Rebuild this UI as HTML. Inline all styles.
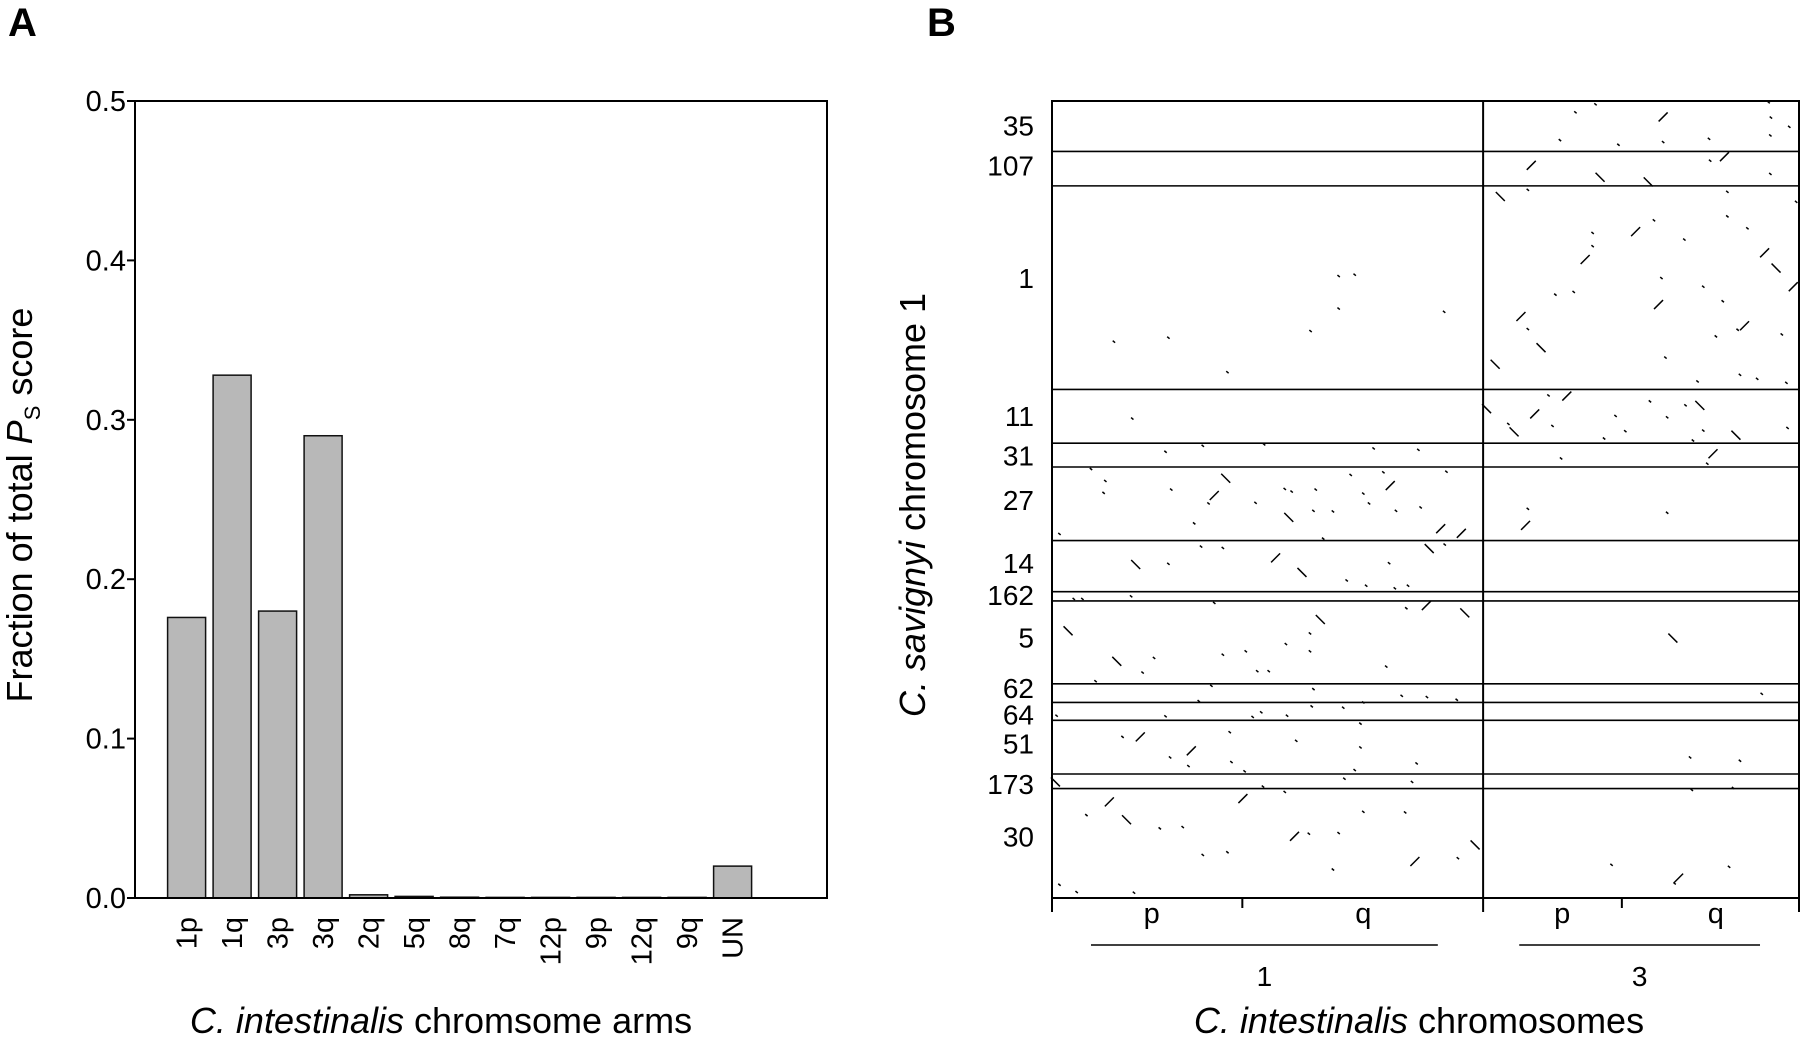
<!DOCTYPE html>
<html><head><meta charset="utf-8"><style>
html,body{margin:0;padding:0;background:#fff}
svg{display:block;font-family:"Liberation Sans",sans-serif}
</style></head><body>
<svg id="fig" width="1800" height="1039" viewBox="0 0 1800 1039" xmlns="http://www.w3.org/2000/svg">
<text x="8" y="36" font-size="40" font-weight="bold">A</text>
<text x="927" y="36" font-size="40" font-weight="bold">B</text>
<g id="chartA"></g>
<g id="chartB"></g>
</svg>
<script>
const categories=["1p","1q","3p","3q","2q","5q","8q","7q","12p","9p","12q","9q","UN"];
const fractionValues=[0.176,0.328,0.180,0.290,0.002,0.001,0.0005,0,0,0,0,0,0.020];
const yTicks=[0,0.1,0.2,0.3,0.4,0.5];
const yTickLabels=["0.0","0.1","0.2","0.3","0.4","0.5"];

const csLabels=["35","107","1","11","31","27","14","162","5","62","64","51","173","30"];
const csBoundaries=[229,281,588,669,705,816,893,907,1032,1060,1087,1168,1190];
const csLabelPos=[190,250,420,628,688,755,850,898,962,1038,1078,1122,1183,1262];
const ciChromBoundaries=[262,1014,1565];
const ciArmTicks=[594,1256];
const armLabels=["p","q","p","q"];
const armLabelPos=[436,805,1152,1420];
const chromLabels=["1","3"];
const chromRange=[[330,935],[1077,1497]];
const dotCi=[370,465,568,713,762,790,762,946,402,460,525,632,823,901,330,355,352,470,565,545,535,617,668,680,675,722,718,752,783,805,815,840,852,862,905,940,976,950,275,735,510,522,560,408,465,652,698,776,810,860,883,920,947,850,300,315,400,290,375,440,420,545,730,670,712,712,600,560,640,620,845,880,915,982,338,540,518,718,715,770,805,872,916,968,270,460,612,627,672,800,385,416,572,688,800,468,505,575,500,598,790,898,772,890,268,630,668,595,322,362,392,450,490,805,878,685,710,762,525,568,752,895,970,1000,275,305,405,
1175,1210,1328,1512,1516,1548,1148,1250,1328,1408,1515,1098,1218,1302,1410,1435,1515,1044,1092,1440,1560,1280,1312,1205,1192,1205,1365,1440,1475,1505,1525,1555,1140,1172,1325,1398,1320,1432,1080,1092,1115,1035,1332,1420,1470,1458,1535,1462,1492,1388,1543,1020,1058,1068,1104,1128,1160,1135,1225,1245,1262,1305,1335,1367,1392,1398,1455,1545,1380,1150,1415,1405,1092,1088,1335,1345,1500,1375,1462,1378,1450,1238,1355,1348,1443];
const dotCs=[516,510,562,500,417,415,466,471,632,682,673,671,677,679,708,726,744,739,722,748,760,759,738,742,781,739,771,772,717,745,760,713,733,771,766,798,805,712,806,813,790,825,827,852,851,842,864,876,884,888,884,828,822,850,904,904,900,952,998,993,1015,910,935,972,956,983,983,988,1013,1013,1006,918,914,925,1028,1035,1058,1040,1066,1068,1060,1050,1052,1056,1080,1081,1082,1075,1080,1092,1112,1112,1105,1118,1128,1143,1133,1150,1156,1164,1162,1152,1175,1180,1180,1187,1195,1205,1230,1210,1237,1250,1248,1225,1226,1262,1258,1257,1290,1286,1312,1300,1295,1275,1335,1346,1347,
170,158,177,155,178,192,212,219,215,210,205,250,268,275,243,237,263,297,287,290,305,350,333,352,392,372,362,327,345,382,405,433,445,441,420,433,460,455,478,497,525,550,540,508,492,498,505,566,572,576,578,617,640,652,625,597,598,643,662,628,651,606,630,612,612,650,657,646,665,692,685,700,768,793,774,963,1047,1143,1148,1192,1189,1305,1325,1333,1308];
const dotDir=[0,0,0,0,0,0,0,0,0,0,0,0,0,0,0,0,0,0,1,-1,0,0,0,0,1,0,0,0,0,0,0,0,-1,0,0,-1,-1,0,0,0,0,0,0,1,0,-1,1,0,0,0,0,1,0,0,0,0,0,1,1,0,0,0,1,0,0,0,0,0,0,0,0,0,-1,1,0,0,0,0,0,0,0,0,0,0,0,0,0,0,0,0,0,-1,0,0,0,0,-1,0,0,0,0,0,0,0,1,0,0,-1,0,-1,1,0,0,0,0,-1,0,0,0,0,0,-1,0,1,0,0,0,
0,0,-1,0,0,0,0,0,0,0,0,-1,1,1,0,-1,0,1,0,0,0,-1,0,0,-1,0,0,0,0,-1,1,-1,0,0,0,0,-1,0,-1,0,1,1,0,0,-1,0,0,0,0,0,0,1,0,1,-1,0,-1,0,0,0,0,0,0,0,1,0,1,0,0,0,-1,0,0,-1,0,1,0,0,0,0,0,0,-1,0,0];

const NS="http://www.w3.org/2000/svg";
function mk(parent,tag,attrs,text){const e=document.createElementNS(NS,tag);for(const k in attrs)e.setAttribute(k,attrs[k]);if(text!==undefined)e.textContent=text;parent.appendChild(e);return e;}

// ---- Panel A ----
const A=document.getElementById('chartA');
const aL=135,aR=827,aT=101,aB=898;
const yA=v=>aB-(v/0.5)*(aB-aT);
const xA=i=>167.6+i*45.5;
const bw=38;
fractionValues.forEach((v,i)=>{
  const h=Math.max(aB-yA(v),0.6);
  const r=mk(A,'rect',{x:xA(i),y:aB-h,width:bw,height:h,fill:'#b8b8b8',stroke:'#111','stroke-width':1.5});
  
  
  const t=mk(A,'text',{transform:`translate(${xA(i)+bw/2+10},${917}) rotate(-90)`,'font-size':29,'text-anchor':'end'},categories[i]);
  
  
});
const fr=mk(A,'rect',{x:aL,y:aT,width:aR-aL,height:aB-aT,fill:'none',stroke:'#000','stroke-width':2});


yTicks.forEach((v,i)=>{
  mk(A,'line',{x1:aL-8,x2:aL,y1:yA(v),y2:yA(v),stroke:'#000','stroke-width':2});
  const t=mk(A,'text',{x:aL-9,y:yA(v)+10,'font-size':29,'text-anchor':'end'},yTickLabels[i]);
  
  
});
const yt=mk(A,'text',{transform:'translate(32,505) rotate(-90)','font-size':36,'text-anchor':'middle'});


yt.innerHTML='Fraction of total <tspan font-style="italic">P</tspan><tspan font-size="22" dy="8">S</tspan><tspan dy="-8"> score</tspan>';
const xt=mk(A,'text',{x:441,y:1033,'font-size':36,'text-anchor':'middle'});


xt.innerHTML='<tspan font-style="italic">C. intestinalis</tspan> chromsome arms';

// ---- Panel B ----
const B=document.getElementById('chartB');
const bL=1052,bR=1799,bT=101,bB=898;
const xB=p=>bL+(p-262)*(bR-bL)/(1565-262);
const yB=p=>bT+(p-153)*(bB-bT)/(1355-153);
const fb=mk(B,'rect',{x:bL,y:bT,width:bR-bL,height:bB-bT,fill:'none',stroke:'#000','stroke-width':2});


csBoundaries.forEach(b=>{
  const l=mk(B,'line',{x1:bL,x2:bR,y1:yB(b),y2:yB(b),stroke:'#000','stroke-width':1.6});
  
  
});
const dv=mk(B,'line',{x1:xB(ciChromBoundaries[1]),x2:xB(ciChromBoundaries[1]),y1:bT,y2:bB+14,stroke:'#000','stroke-width':2});


[ciChromBoundaries[0],ciChromBoundaries[2]].forEach(b=>mk(B,'line',{x1:xB(b),x2:xB(b),y1:bB,y2:bB+14,stroke:'#000','stroke-width':2}));
ciArmTicks.forEach(b=>mk(B,'line',{x1:xB(b),x2:xB(b),y1:bB,y2:bB+10,stroke:'#000','stroke-width':2}));
csLabels.forEach((s,i)=>{
  const t=mk(B,'text',{x:1034,y:yB(csLabelPos[i])+10,'font-size':28,'text-anchor':'end'},s);
  
  
});
armLabels.forEach((s,i)=>{
  const t=mk(B,'text',{x:xB(armLabelPos[i]),y:923,'font-size':29,'text-anchor':'middle'},s);
  
  
});
chromLabels.forEach((s,i)=>{
  const l=mk(B,'line',{x1:xB(chromRange[i][0]),x2:xB(chromRange[i][1]),y1:945,y2:945,stroke:'#000','stroke-width':1.6});
  
  
  const t=mk(B,'text',{x:(xB(chromRange[i][0])+xB(chromRange[i][1]))/2,y:986,'font-size':28,'text-anchor':'middle'},s);
  
  
});
dotCi.forEach((c,i)=>{
  const x=xB(c),y=yB(dotCs[i]),d=dotDir[i];
  const len=d===0?1.2:4.5;
  const dy=d===0?1:d*len;
  const l=mk(B,'line',{x1:x-len,y1:y-dy,x2:x+len,y2:y+dy,stroke:'#000','stroke-width':1.5});
  
  
});
const byt=mk(B,'text',{transform:'translate(925,505) rotate(-90)','font-size':36,'text-anchor':'middle'});


byt.innerHTML='<tspan font-style="italic">C. savignyi</tspan> chromosome 1';
const bxt=mk(B,'text',{x:1419,y:1033,'font-size':36,'text-anchor':'middle'});


bxt.innerHTML='<tspan font-style="italic">C. intestinalis</tspan> chromosomes';
</script>
</body></html>
